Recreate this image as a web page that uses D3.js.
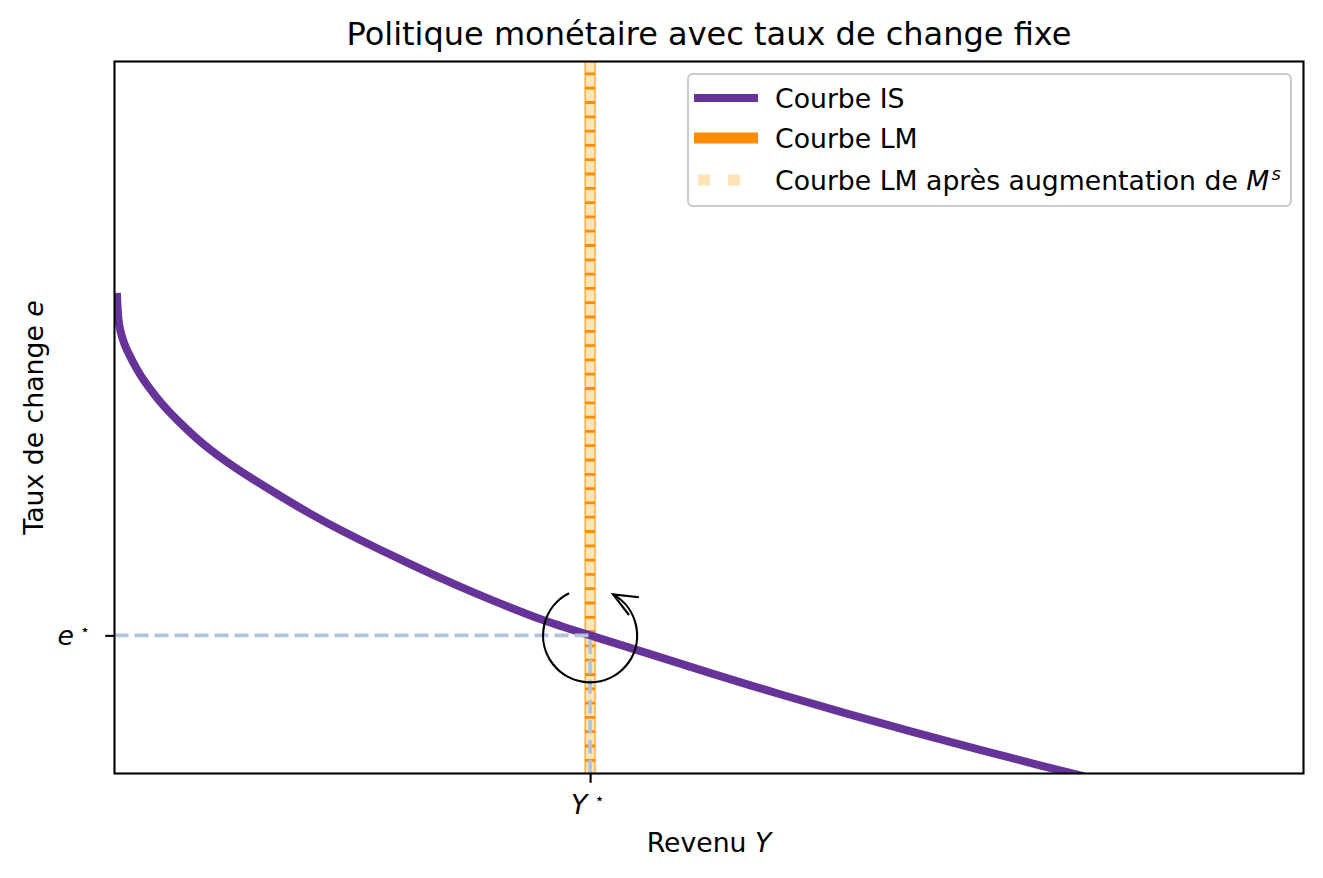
<!DOCTYPE html>
<html>
<head>
<meta charset="utf-8">
<script src="https://cdn.jsdelivr.net/npm/d3@7"></script>
<style>
body { margin: 0; background: #fff; }
text { font-family: "DejaVu Sans", sans-serif; fill: #000; }
</style>
</head>
<body>
<div id="chart-area"></div>
<script>
// IS curve (revenue Y, exchange rate e)
var isRevenue = [0.2, 0.3, 0.5, 0.8, 1.2, 1.8, 2.4, 3.5, 4.3, 5.3, 6.6, 8, 9.4, 10.8, 13.7, 16.4, 19.2, 22.1, 24.9, 27.6, 30.5, 33.3, 36, 40, 44.8, 50.3, 56, 61.6, 67.2, 72.8, 78.4, 82];
var isRate    = [67.5, 63.8, 62.0, 60.4, 58.9, 57.0, 55.3, 52.9, 51.3, 49.6, 47.5, 45.5, 43.8, 42.2, 39.2, 36.5, 34.0, 31.6, 29.4, 27.3, 25.2, 23.3, 21.5, 19.4, 16.9, 14.0, 11.1, 8.4, 5.8, 3.3, 0.9, -0.6];

// LM (vertical) and equilibrium
var yStar = 40;
var eStar = 19.4;
var lmRate = [-10, 110];

var xTickValues = [yStar];
var yTickValues = [eStar];
var xTickBase = ["Y"];
var yTickBase = ["e"];

var legendLabels = ["Courbe IS", "Courbe LM", "Courbe LM après augmentation de "];

var W = 1323, H = 878;
var margin = { left: 114.5, right: 19.5, top: 61.5, bottom: 104.5 };
var w = W - margin.left - margin.right;
var h = H - margin.top - margin.bottom;

var svg = d3.select("#chart-area").append("svg")
    .attr("width", W)
    .attr("height", H);

svg.append("rect").attr("width", W).attr("height", H).attr("fill", "#fff");

var x = d3.scaleLinear().domain([0, 100]).range([0, w]);
var y = d3.scaleLinear().domain([0, 100]).range([h, 0]);

var group = svg.append("g")
    .attr("transform", "translate(" + margin.left + "," + margin.top + ")");

group.append("clipPath").attr("id", "plot-clip")
  .append("rect").attr("width", w).attr("height", h);

var plot = group.append("g").attr("clip-path", "url(#plot-clip)");

// LM curve (before)
var lmLine = d3.line()
    .x(function () { return x(yStar); })
    .y(function (d) { return y(d); });

plot.append("path")
    .datum(lmRate)
    .attr("d", lmLine)
    .attr("fill", "none")
    .attr("stroke", "#ff8c00")
    .attr("stroke-width", 11);

// LM curve after money supply increase (same place)
plot.append("path")
    .datum(lmRate)
    .attr("d", lmLine)
    .attr("fill", "none")
    .attr("stroke", "#ffe4b5")
    .attr("stroke-width", 9)
    .attr("stroke-dasharray", "11.5,2.8");

// IS curve
var isData = isRevenue.map(function (d, i) { return [d, isRate[i]]; });
plot.append("path")
    .datum(isData)
    .attr("d", d3.line()
        .x(function (d) { return x(d[0]); })
        .y(function (d) { return y(d[1]); })
        .curve(d3.curveBasis))
    .attr("fill", "none")
    .attr("stroke", "#663399")
    .attr("stroke-width", 8);

// dashed guides to the equilibrium
plot.append("path")
    .datum([[0, eStar], [yStar, eStar], [yStar, 0]])
    .attr("d", d3.line()
        .x(function (d) { return x(d[0]); })
        .y(function (d) { return y(d[1]); }))
    .attr("fill", "none")
    .attr("stroke", "#b0c4de")
    .attr("stroke-width", 3.6)
    .attr("stroke-dasharray", "14,6");

// circular arrow round the equilibrium
var cx = x(yStar), cy = y(eStar), r = 47;
var a0 = 116.6 * Math.PI / 180, a1 = 420.7 * Math.PI / 180;
var p0 = [cx + r * Math.cos(a0), cy - r * Math.sin(a0)];
var p1 = [cx + r * Math.cos(a1), cy - r * Math.sin(a1)];
group.append("path")
    .attr("d", "M" + p0[0] + "," + p0[1] + " A" + r + "," + r + " 0 1 0 " + p1[0] + "," + p1[1])
    .attr("fill", "none")
    .attr("stroke", "#000")
    .attr("stroke-width", 2.2);

var back = Math.atan2(Math.cos(a1), Math.sin(a1));
var headLen = 26, headAng = 23 * Math.PI / 180;
group.append("path")
    .attr("d", "M" + (p1[0] + headLen * Math.cos(back - headAng)) + "," + (p1[1] + headLen * Math.sin(back - headAng)) +
        " L" + p1[0] + "," + p1[1] +
        " L" + (p1[0] + headLen * Math.cos(back + headAng)) + "," + (p1[1] + headLen * Math.sin(back + headAng)))
    .attr("fill", "none")
    .attr("stroke", "#000")
    .attr("stroke-width", 2.2);

// frame
group.append("rect")
    .attr("width", w).attr("height", h)
    .attr("fill", "none")
    .attr("stroke", "#000")
    .attr("stroke-width", 2.1);

// axes
var bottom = d3.axisBottom(x).tickValues(xTickValues).tickSize(9.3).tickFormat("");
group.append("g")
    .attr("class", "bottom axis")
    .attr("transform", "translate(0," + h + ")")
    .call(bottom);

var left = d3.axisLeft(y).tickValues(yTickValues).tickSize(9.3).tickFormat("");
group.append("g")
    .attr("class", "left axis")
    .call(left);

group.selectAll(".axis .domain").remove();
group.selectAll(".axis line").attr("stroke", "#000").attr("stroke-width", 2.1);

xTickValues.forEach(function (v, i) {
    var t = group.append("text")
        .attr("x", x(v) - 19)
        .attr("y", h + 40)
        .attr("font-size", "26.7px");
    t.append("tspan").attr("font-style", "italic").text(xTickBase[i]);
    t.append("tspan").attr("font-size", "16px").attr("dy", -10).attr("dx", 7).text("⋆");
});

yTickValues.forEach(function (v, i) {
    var t = group.append("text")
        .attr("x", -57)
        .attr("y", y(v) + 10)
        .attr("font-size", "26.7px");
    t.append("tspan").attr("font-style", "italic").text(yTickBase[i]);
    t.append("tspan").attr("font-size", "16px").attr("dy", -10).attr("dx", 6).text("⋆");
});

// labels
var xl = group.append("text")
    .attr("x", w / 2)
    .attr("y", h + 78)
    .attr("text-anchor", "middle")
    .attr("font-size", "26.7px");
xl.append("tspan").text("Revenu ");
xl.append("tspan").attr("font-style", "italic").text("Y");

var yl = group.append("text")
    .attr("transform", "translate(-72," + (h / 2) + ") rotate(-90)")
    .attr("text-anchor", "middle")
    .attr("font-size", "26.7px");
yl.append("tspan").text("Taux de change ");
yl.append("tspan").attr("font-style", "italic").text("e");

group.append("text")
    .attr("x", w / 2)
    .attr("y", -17)
    .attr("text-anchor", "middle")
    .attr("font-size", "32px")
    .text("Politique monétaire avec taux de change fixe");

// legend
var legend = svg.append("g").attr("transform", "translate(688,74)");
legend.append("rect")
    .attr("width", 603).attr("height", 132)
    .attr("rx", 5).attr("ry", 5)
    .attr("fill", "#fff").attr("fill-opacity", 0.8)
    .attr("stroke", "#cccccc").attr("stroke-width", 2);

var handles = [
    { color: "#663399", width: 8, dash: null, x0: 6 },
    { color: "#ff8c00", width: 11, dash: null, x0: 6 },
    { color: "#ffe4b5", width: 11, dash: "12,18", x0: 10 }
];
var rowY = [24, 64, 106];

legendLabels.forEach(function (lab, i) {
    legend.append("line")
        .attr("x1", handles[i].x0).attr("x2", 70)
        .attr("y1", rowY[i]).attr("y2", rowY[i])
        .attr("stroke", handles[i].color)
        .attr("stroke-width", handles[i].width)
        .attr("stroke-dasharray", handles[i].dash);
    var t = legend.append("text")
        .attr("x", 87)
        .attr("y", rowY[i] + 9.5)
        .attr("font-size", "26.7px");
    t.append("tspan").text(lab);
    if (i === 2) {
        t.append("tspan").attr("font-style", "italic").text("M");
        t.append("tspan").attr("font-style", "italic").attr("font-size", "18px").attr("dy", -10).attr("dx", 2).text("s");
    }
});
</script>
</body>
</html>
